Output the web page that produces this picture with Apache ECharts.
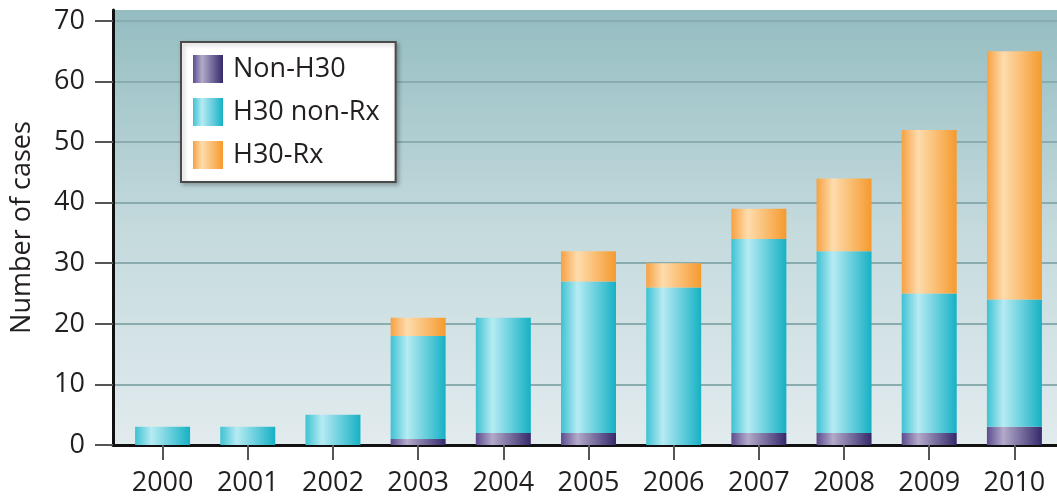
<!DOCTYPE html>
<html>
<head>
<meta charset="utf-8">
<script src="https://cdn.jsdelivr.net/npm/echarts@6/dist/echarts.min.js"></script>
<style>
  html, body { margin: 0; padding: 0; background: #fff; }
  #main { width: 1057px; height: 498px; }
</style>
</head>
<body>
<div id="main"></div>
<script>
// data
const years = ['2000', '2001', '2002', '2003', '2004', '2005', '2006', '2007', '2008', '2009', '2010']
const nonH30 = [0, 0, 0, 1, 2, 2, 0, 2, 2, 2, 3]
const h30NonRx = [3, 3, 5, 17, 19, 25, 26, 32, 30, 23, 21]
const h30Rx = [0, 0, 0, 3, 0, 5, 4, 5, 12, 27, 41]
const yTicks = [0, 10, 20, 30, 40, 50, 60, 70]

const font = '"Open Sans", "DejaVu Sans", sans-serif'
const textColor = '#231f20'
const fontSize = 27

// horizontal "cylinder" shading for bars
function shade(edge, light, dark) {
  return new echarts.graphic.LinearGradient(0, 0, 1, 0, [
    { offset: 0, color: edge },
    { offset: 0.3, color: light },
    { offset: 1, color: dark }
  ])
}

const chart = echarts.init(document.getElementById('main'))

chart.setOption({
  backgroundColor: '#fff',
  animation: false,
  textStyle: { fontFamily: font },
  grid: [
    {
      // frame + background
      left: 113, right: 0, top: 10, bottom: 53,
      show: true,
      borderWidth: 0,
      backgroundColor: new echarts.graphic.LinearGradient(0, 0, 0, 1, [
        { offset: 0, color: '#94bdc1' },
        { offset: 0.5, color: '#c4dadd' },
        { offset: 1, color: '#e2ebee' }
      ])
    },
    {
      // bars
      left: 120, right: -3, top: 10, bottom: 53
    }
  ],
  legend: {
    orient: 'vertical',
    left: 181, top: 42,
    icon: 'rect',
    itemWidth: 30, itemHeight: 28, itemGap: 15,
    padding: [13, 16, 13, 12],
    backgroundColor: '#fff',
    borderColor: '#4a4a4a',
    borderWidth: 2,
    shadowColor: 'rgba(0,0,0,0.25)',
    shadowBlur: 4,
    shadowOffsetX: 2,
    shadowOffsetY: 2,
    textStyle: { fontSize: fontSize, color: textColor, fontFamily: font, padding: [0, 0, 0, 5] },
    data: ['Non-H30', 'H30 non-Rx', 'H30-Rx']
  },
  xAxis: [
    {
      gridIndex: 0,
      type: 'value',
      min: 0, max: 1,
      axisLine: { show: true, lineStyle: { color: '#111', width: 3 } },
      axisTick: { show: false },
      axisLabel: { show: false },
      splitLine: { show: false }
    },
    {
      gridIndex: 1,
      type: 'category',
      data: years,
      axisLine: { show: false },
      axisTick: { show: true, alignWithLabel: true, length: 15, lineStyle: { color: '#555', width: 2 } },
      axisLabel: { fontSize: fontSize, color: textColor, margin: 25, fontFamily: font }
    }
  ],
  yAxis: [
    {
      gridIndex: 0,
      type: 'value',
      min: 0, max: 71.8,
      name: 'Number of cases',
      nameLocation: 'middle',
      nameGap: 77,
      nameTextStyle: { fontSize: fontSize, color: textColor, fontFamily: font },
      axisLine: { show: true, lineStyle: { color: '#111', width: 3 } },
      axisTick: { show: true, length: 18, customValues: yTicks, lineStyle: { color: '#555', width: 2 } },
      axisLabel: { fontSize: fontSize, color: textColor, margin: 28, customValues: yTicks, fontFamily: font },
      splitLine: { show: true, lineStyle: { color: '#8aacaf', width: 2 } }
    },
    {
      gridIndex: 1,
      type: 'value',
      min: 0, max: 71.8,
      show: false,
      splitLine: { show: false }
    }
  ],
  series: [
    {
      name: 'Non-H30',
      type: 'bar',
      stack: 'cases',
      xAxisIndex: 1, yAxisIndex: 1,
      barWidth: 55,
      itemStyle: { color: shade('#5b4d8e', '#b3aacb', '#35296a') },
      data: nonH30
    },
    {
      name: 'H30 non-Rx',
      type: 'bar',
      stack: 'cases',
      xAxisIndex: 1, yAxisIndex: 1,
      barWidth: 55,
      itemStyle: { color: shade('#3ec2d2', '#b6ebf3', '#16b1c5') },
      data: h30NonRx
    },
    {
      name: 'H30-Rx',
      type: 'bar',
      stack: 'cases',
      xAxisIndex: 1, yAxisIndex: 1,
      barWidth: 55,
      itemStyle: { color: shade('#f7a142', '#fedcad', '#f59a2e') },
      data: h30Rx
    }
  ]
})
</script>
</body>
</html>
